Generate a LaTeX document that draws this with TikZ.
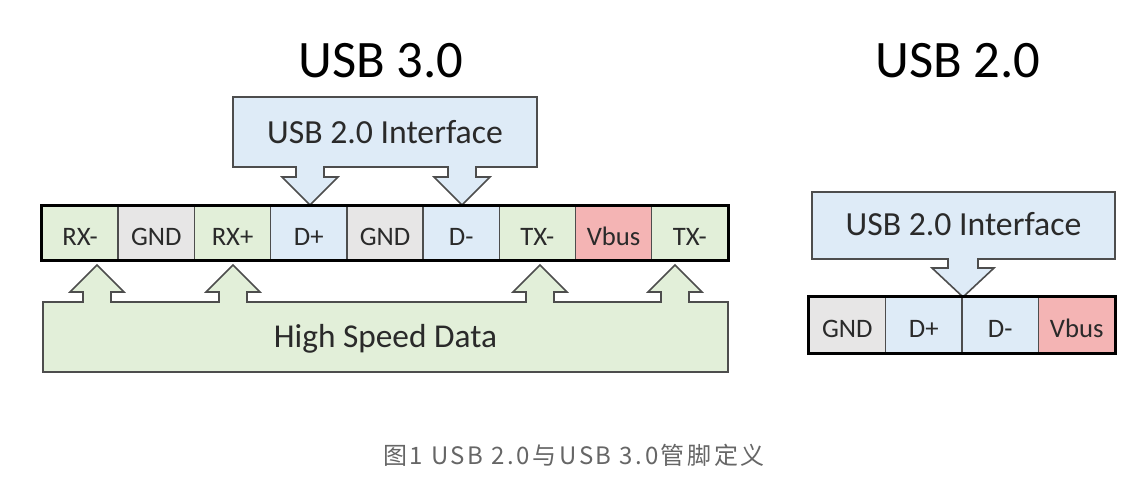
\documentclass[tikz,border=0pt]{standalone}
\usepackage{fontspec}
\setmainfont{Carlito}
\newfontfamily\cjk{Noto Sans CJK SC}
\definecolor{pgreen}{HTML}{E2EFD9}
\definecolor{pblue}{HTML}{DEEBF7}
\definecolor{pgray}{HTML}{E7E6E6}
\definecolor{ppink}{HTML}{F4B4B4}
\definecolor{linegray}{HTML}{4D4D4D}
\definecolor{txtgray}{HTML}{2A2A2A}
\definecolor{capgray}{HTML}{666666}
\tikzset{
  cell/.style={draw=linegray, line width=1.1pt, inner sep=0pt, minimum width=57.2pt, minimum height=40.5pt,
    text height=18pt, text depth=0pt, font=\fontsize{20}{20}\selectfont, text=txtgray},
  cellr/.style={cell, minimum width=57.4pt, minimum height=42pt},
  outerbar/.style={draw=black, line width=2.3pt},
  blockshape/.style={draw=linegray, line width=1.2pt, line join=miter},
  title/.style={font=\fontsize{39.5}{39.5}\selectfont, text=black, anchor=base, inner sep=0pt},
  boxtext/.style={font=\fontsize{25.3}{25.3}\selectfont, text=txtgray, anchor=base, inner sep=0pt},
}
\begin{document}
\begin{tikzpicture}[x=0.75pt,y=-0.75pt]
\useasboundingbox (0,0) rectangle (1143,486);
\fill[white] (0,0) rectangle (1143,486);

% titles
\node[title] (t3) at (381,77) {USB 3.0};
\node[title] (t2) at (958,77) {USB 2.0};

% ---------- USB 3.0 ----------
% interface block with two down arrows
\draw[blockshape, fill=pblue] (233,97) -- (537,97) -- (537,167) -- (476,167) -- (476,177) -- (490,177)
  -- (462,205) -- (434,177) -- (448,177) -- (448,167) -- (324,167) -- (324,177) -- (338,177)
  -- (310,205) -- (282,177) -- (296,177) -- (296,167) -- (233,167) -- cycle;
\node[boxtext] (if3) at (385,143) {USB 2.0 Interface};

% high speed data block with four up arrows
\draw[blockshape, fill=pgreen] (43,302) -- (83,302) -- (83,292) -- (70,292) -- (97,265) -- (124,292)
  -- (111,292) -- (111,302) -- (219,302) -- (219,292) -- (206,292) -- (233,265) -- (260,292)
  -- (247,292) -- (247,302) -- (526,302) -- (526,292) -- (513,292) -- (540,265) -- (567,292)
  -- (554,292) -- (554,302) -- (661,302) -- (661,292) -- (648,292) -- (675,265) -- (702,292)
  -- (689,292) -- (689,302) -- (728,302) -- (728,372) -- (43,372) -- cycle;
\node[boxtext, font=\fontsize{25}{25}\selectfont] (hsd) at (385.5,347) {High Speed Data};

% pin bar
\foreach \i/\lab/\col in {0/RX-/pgreen,1/GND/pgray,2/RX+/pgreen,3/D+/pblue,4/GND/pgray,5/D-/pblue,6/TX-/pgreen,7/Vbus/ppink,8/TX-/pgreen}{
  \node[cell, fill=\col] (c\i) at ({42+76.22*(\i+0.5)},233) {\lab};
}
\draw[outerbar] (c0.north west) rectangle (c8.south east);

% ---------- USB 2.0 ----------
\draw[blockshape, fill=pblue] (812,192) -- (1115,192) -- (1115,259) -- (978,259) -- (978,268) -- (994,268)
  -- (963,297) -- (932,268) -- (948,268) -- (948,259) -- (812,259) -- cycle;
\node[boxtext] (if2) at (963.5,235) {USB 2.0 Interface};

\foreach \i/\lab/\col in {0/GND/pgray,1/D+/pblue,2/D-/pblue,3/Vbus/ppink}{
  \node[cellr, fill=\col] (r\i) at ({809+76.5*(\i+0.5)},325) {\lab};
}
\draw[outerbar] (r0.north west) rectangle (r3.south east);

% caption
\node[anchor=base, inner sep=0pt, text=capgray, font={\cjk\fontsize{18}{18}\selectfont\addfontfeature{LetterSpace=11}}] (cap) at (574,464) {图1 USB 2.0与USB 3.0管脚定义};
\end{tikzpicture}
\end{document}
